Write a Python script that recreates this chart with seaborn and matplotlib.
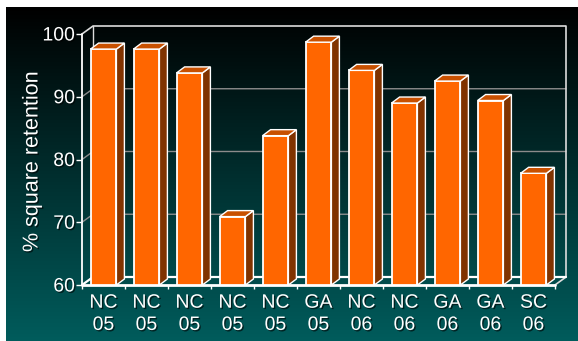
import numpy as np
import pandas as pd
import matplotlib
matplotlib.use("Agg")
import matplotlib.pyplot as plt
import matplotlib.patheffects as pe
from matplotlib.patches import Polygon
import seaborn as sns

# ---- data ----
categories = ["NC\n05", "NC\n05", "NC\n05", "NC\n05", "NC\n05", "GA\n05",
              "NC\n06", "NC\n06", "GA\n06", "GA\n06", "SC\n06"]
retention = [97.6, 97.6, 93.8, 70.9, 83.8, 98.7, 94.2, 89.0, 92.5, 89.4, 77.8]
y_ticks = [60, 70, 80, 90, 100]
y_label = "% square retention"

sns.set_theme(style="white")
plt.rcParams['font.family'] = ['Liberation Sans', 'DejaVu Sans']

W, H = 578, 341
fig = plt.figure(figsize=(W / 100, H / 100), dpi=100, facecolor="white")

# background gradient (black at top -> teal at bottom)
bg = fig.add_axes([6 / W, 0, 1 - 6 / W, (H - 7) / H])
bg.set_axis_off()
top_c = np.array([0.0, 0.0, 0.0])
bot_c = np.array([0.0, 0.36, 0.36])
t = np.linspace(0, 1, 256)[:, None]
grad = (top_c[None, :] * (1 - t) + bot_c[None, :] * t)[:, None, :]
bg.imshow(grad, aspect="auto", extent=[0, 1, 0, 1], origin="upper")

# main axes: front plane of the 3D chart
left, right, top, bottom = 82, 555, 34, 285
ax = fig.add_axes([left / W, (H - bottom) / H, (right - left) / W, (bottom - top) / H])
ax.patch.set_alpha(0)

n = len(categories)
df = pd.DataFrame({"idx": list(range(n)), "val": retention})
sns.barplot(data=df, x="idx", y="val", ax=ax, color="#FF6600", saturation=1,
            width=0.6, edgecolor="white", linewidth=1.3, zorder=3)

ax.set_xlim(-0.5, n - 0.5)
ax.set_ylim(60, 100)

# pixel -> data conversions for 3D offsets
px_x = (right - left) / n
px_y = (bottom - top) / 40.0
wdx, wdy = 11 / px_x, 8 / px_y     # wall depth
bdx, bdy = 8 / px_x, 6 / px_y      # bar depth

x0, x1 = -0.5, n - 0.5
grid_c = "#8c8c8c"
edge_c = "#dcdcdc"
# gridlines on side + back wall
for v in y_ticks[1:-1]:
    ax.plot([x0, x0 + wdx, x1 + wdx], [v, v + wdy, v + wdy], color=grid_c, lw=1.0,
            clip_on=False, zorder=1)
# back wall outline
ax.plot([x0, x0 + wdx, x1 + wdx, x1 + wdx, x1], [100, 100 + wdy, 100 + wdy, 60 + wdy, 60],
        color=edge_c, lw=1.2, clip_on=False, zorder=1)
ax.plot([x0 + wdx, x0 + wdx], [60 + wdy, 100 + wdy], color=edge_c, lw=1.0, clip_on=False, zorder=1)
ax.plot([x0, x0 + wdx, x1 + wdx], [60, 60 + wdy, 60 + wdy], color="white", lw=1.6,
        clip_on=False, zorder=1)
# front axis lines
ax.plot([x0, x0], [60, 100], color="white", lw=1.3, clip_on=False, zorder=2)
ax.plot([x0, x1], [60, 60], color="white", lw=2.0, clip_on=False, zorder=4)

# 3D faces of bars (front faces clipped at the 60 floor by the axes)
for p in ax.patches[:]:
    bx0 = p.get_x()
    bx1 = bx0 + p.get_width()
    h = p.get_height()
    yb = 60
    side = Polygon([[bx1, yb], [bx1, h], [bx1 + bdx, h + bdy], [bx1 + bdx, yb + bdy]],
                   closed=True, facecolor="#803300", edgecolor="white", lw=1.0,
                   clip_on=False, zorder=3)
    topf = Polygon([[bx0, h], [bx1, h], [bx1 + bdx, h + bdy], [bx0 + bdx, h + bdy]],
                   closed=True, facecolor="#C85000", edgecolor="white", lw=1.0,
                   clip_on=False, zorder=3)
    ax.add_patch(side)
    ax.add_patch(topf)

for s in ax.spines.values():
    s.set_visible(False)

shadow = [pe.SimplePatchShadow(offset=(1, -1), shadow_rgbFace="black", alpha=0.6), pe.Normal()]

ax.set_yticks(y_ticks)
ax.set_yticklabels([str(v) for v in y_ticks], color="white", fontsize=14)
ax.tick_params(axis="y", direction="out", length=4, width=1, color="white", pad=1, left=True)

ax.set_xticks(range(n))
ax.set_xticklabels(categories, color="white", fontsize=14, linespacing=1.4)
ax.set_xticks(np.arange(-0.5, n, 1.0), minor=True)
ax.tick_params(axis="x", which="major", length=0, pad=7)
ax.tick_params(axis="x", which="minor", direction="out", length=3, width=1, color="white", bottom=True)
for lab in ax.get_xticklabels() + ax.get_yticklabels():
    lab.set_path_effects(shadow)

ax.set_xlabel("")
ax.set_ylabel("")
fig.text(32 / W, 1 - 162 / H, y_label, rotation=90, color="white", fontsize=15.5,
         ha="center", va="center", path_effects=shadow)

fig.savefig("out.png", dpi=100, facecolor="white")
